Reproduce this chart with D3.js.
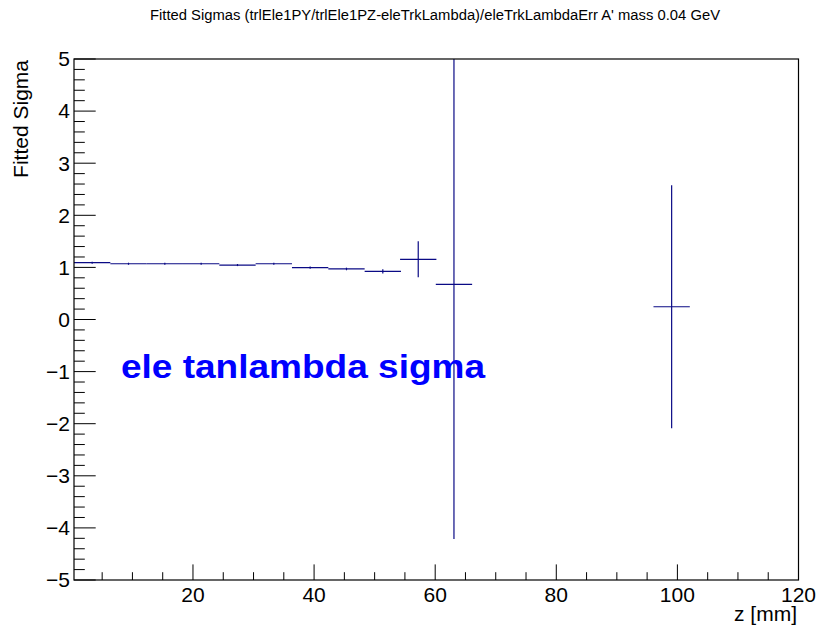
<!DOCTYPE html>
<html>
<head>
<meta charset="utf-8">
<script src="https://cdn.jsdelivr.net/npm/d3@7"></script>
<style>
  body { margin: 0; background: #fff; }
  svg { display: block; font-family: "Liberation Sans", Arial, sans-serif; }
</style>
</head>
<body>
<svg id="chart"></svg>
<script>
const width = 819, height = 627;

// histogram bins (6 mm wide), only filled bins are drawn
const binCenters = [3.35, 9.35, 15.35, 21.35, 27.35, 33.35, 39.35, 45.35, 51.35, 57.2, 63.1, 99.05];
const sigmaValues = [1.09, 1.07, 1.07, 1.07, 1.045, 1.07, 0.995, 0.97, 0.925, 1.155, 0.675, 0.245];
const sigmaErrors = [0.02, 0.02, 0.02, 0.02, 0.02, 0.02, 0.02, 0.025, 0.04, 0.345, 4.89, 2.33];
const binWidth = 6;

const xMajorTicks = [20, 40, 60, 80, 100, 120];
const yMajorTicks = [-5, -4, -3, -2, -1, 0, 1, 2, 3, 4, 5];

const title = "Fitted Sigmas (trlEle1PY/trlEle1PZ-eleTrkLambda)/eleTrkLambdaErr A' mass 0.04 GeV";

const frame = {left: 74, right: 798.5, top: 59, bottom: 580};

const x = d3.scaleLinear().domain([0.35, 120]).range([frame.left, frame.right]);
const y = d3.scaleLinear().domain([-5, 5]).range([frame.bottom, frame.top]);

const svg = d3.select("#chart")
    .attr("width", width)
    .attr("height", height)
    .attr("viewBox", [0, 0, width, height]);

svg.append("rect").attr("width", width).attr("height", height).attr("fill", "#fff");

// title
svg.append("text")
    .attr("x", 150)
    .attr("y", 20)
    .attr("font-size", 14)
    .attr("textLength", 570)
    .attr("lengthAdjust", "spacingAndGlyphs")
    .text(title);

// ticks: ROOT style, drawn inward
const xMinor = d3.range(5, 120, 5).filter(v => v % 20 !== 0);
const yMinor = d3.range(-5, 5.001, 0.2).map(v => +v.toFixed(1)).filter(v => Math.abs(v % 1) > 0.01);

const ticks = svg.append("g").attr("stroke", "#000").attr("stroke-width", 1);
ticks.selectAll(".xmaj").data(xMajorTicks).join("line")
    .attr("x1", d => x(d)).attr("x2", d => x(d))
    .attr("y1", frame.bottom).attr("y2", frame.bottom - 15.6);
ticks.selectAll(".xmin").data(xMinor).join("line")
    .attr("x1", d => x(d)).attr("x2", d => x(d))
    .attr("y1", frame.bottom).attr("y2", frame.bottom - 7.8);
ticks.selectAll(".ymaj").data(yMajorTicks).join("line")
    .attr("x1", frame.left).attr("x2", frame.left + 21.7)
    .attr("y1", d => y(d)).attr("y2", d => y(d));
ticks.selectAll(".ymin").data(yMinor).join("line")
    .attr("x1", frame.left).attr("x2", frame.left + 10.8)
    .attr("y1", d => y(d)).attr("y2", d => y(d));

// tick labels
svg.append("g").attr("font-size", 21).attr("text-anchor", "middle")
  .selectAll("text").data(xMajorTicks).join("text")
    .attr("x", d => x(d))
    .attr("y", 602)
    .text(d => d);

svg.append("g").attr("font-size", 21).attr("text-anchor", "end")
  .selectAll("text").data(yMajorTicks).join("text")
    .attr("x", 70)
    .attr("y", d => y(d))
    .attr("dy", "0.35em")
    .text(d => d < 0 ? "\u2212" + Math.abs(d) : d);

// axis titles
svg.append("text")
    .attr("transform", "translate(28,60) rotate(-90)")
    .attr("text-anchor", "end")
    .attr("font-size", 21)
    .text("Fitted Sigma");

svg.append("text")
    .attr("x", 797)
    .attr("y", 621)
    .attr("text-anchor", "end")
    .attr("font-size", 21)
    .text("z [mm]");

// data with error bars, clipped to the frame
svg.append("clipPath").attr("id", "clip")
  .append("rect")
    .attr("x", frame.left).attr("y", frame.top)
    .attr("width", frame.right - frame.left).attr("height", frame.bottom - frame.top);

const pts = binCenters.map((c, i) => ({c, v: sigmaValues[i], e: sigmaErrors[i]}));

const marks = svg.append("g")
    .attr("clip-path", "url(#clip)")
    .attr("stroke", "#0a0a85")
    .attr("stroke-width", 1.2);

marks.selectAll(".h").data(pts).join("line")
    .attr("x1", d => x(d.c - binWidth / 2))
    .attr("x2", d => x(d.c + binWidth / 2))
    .attr("y1", d => y(d.v)).attr("y2", d => y(d.v));

marks.selectAll(".v").data(pts).join("line")
    .attr("x1", d => x(d.c)).attr("x2", d => x(d.c))
    .attr("y1", d => y(d.v - d.e)).attr("y2", d => y(d.v + d.e));

// frame
svg.append("rect")
    .attr("x", frame.left).attr("y", frame.top)
    .attr("width", frame.right - frame.left).attr("height", frame.bottom - frame.top)
    .attr("fill", "none").attr("stroke", "#000").attr("stroke-width", 1.2);

// in-plot label
svg.append("text")
    .attr("x", 121)
    .attr("y", 378)
    .attr("font-size", 33)
    .attr("font-weight", "bold")
    .attr("fill", "#0000ff")
    .attr("textLength", 364)
    .attr("lengthAdjust", "spacingAndGlyphs")
    .text("ele tanlambda sigma");
</script>
</body>
</html>
